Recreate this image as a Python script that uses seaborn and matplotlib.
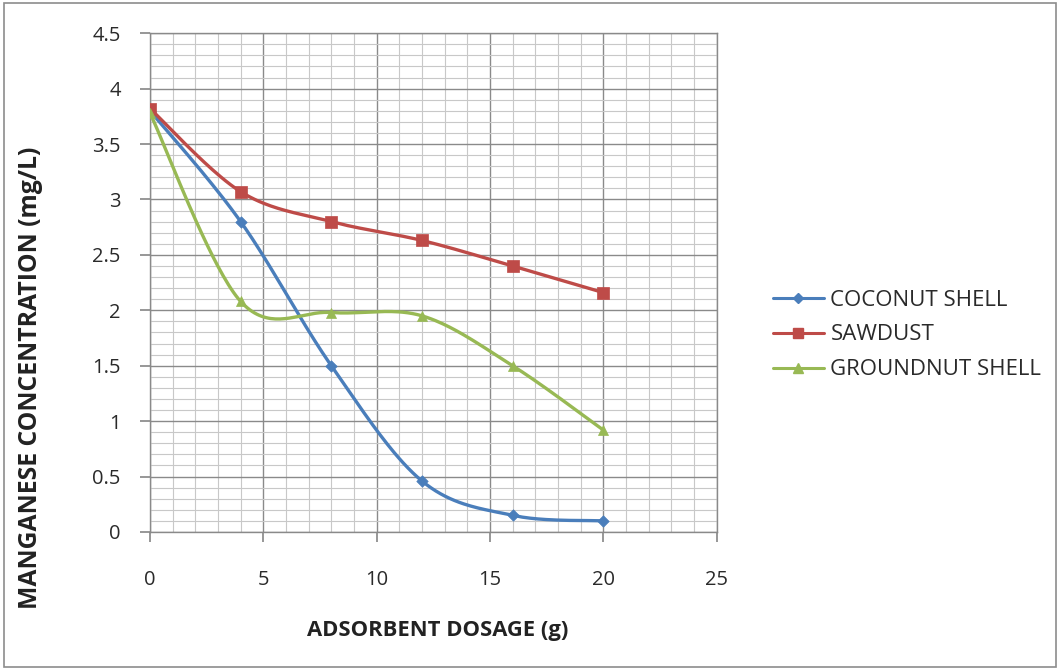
import numpy as np
import pandas as pd
import matplotlib
matplotlib.use("Agg")
import matplotlib.pyplot as plt
from matplotlib.lines import Line2D
from matplotlib.patches import Rectangle
from matplotlib.ticker import MultipleLocator
import seaborn as sns

# ---- data ----
dosage = [0, 4, 8, 12, 16, 20]
coconut = [3.80, 2.80, 1.50, 0.46, 0.15, 0.10]
sawdust = [3.82, 3.07, 2.80, 2.63, 2.40, 2.16]
groundnut = [3.78, 2.08, 1.98, 1.95, 1.50, 0.92]
series_names = ["COCONUT SHELL", "SAWDUST", "GROUNDNUT SHELL"]
x_ticks = [0, 5, 10, 15, 20, 25]
y_ticks = [0, 0.5, 1, 1.5, 2, 2.5, 3, 3.5, 4, 4.5]

colors = ["#4A7EBB", "#BE4B48", "#98B954"]
markers = ["D", "s", "^"]
msizes = [34, 64, 52]

sns.set_theme(style="white")
plt.rcParams['font.family'] = ['Open Sans', 'DejaVu Sans']


def smooth(xs, ys, n=40):
    """Excel-like smoothed curve (cubic Bezier with Catmull-Rom controls)."""
    xs = np.asarray(xs, float)
    ys = np.asarray(ys, float)
    P = np.column_stack([xs, ys])
    out = []
    for i in range(len(P) - 1):
        p0 = P[i - 1] if i > 0 else P[i]
        p1 = P[i]
        p2 = P[i + 1]
        p3 = P[i + 2] if i + 2 < len(P) else P[i + 1]
        c1 = p1 + (p2 - p0) / 6.0
        c2 = p2 - (p3 - p1) / 6.0
        t = np.linspace(0, 1, n)[:, None]
        seg = ((1 - t) ** 3) * p1 + 3 * ((1 - t) ** 2) * t * c1 + 3 * (1 - t) * t ** 2 * c2 + t ** 3 * p2
        out.append(seg if i == 0 else seg[1:])
    seg = np.vstack(out)
    return seg[:, 0], seg[:, 1]


fig = plt.figure(figsize=(10.6, 6.7), dpi=100)
ax = fig.add_axes([0.1415, 0.206, 0.5345, 0.7445])

# outer figure border
fig.patches.append(Rectangle((0.004, 0.004), 0.992, 0.992, transform=fig.transFigure,
                             fill=False, edgecolor="#8C8C8C", linewidth=1.2))

handles = []
for name, ys, c, m, ms in zip(series_names, [coconut, sawdust, groundnut], colors, markers, msizes):
    sx, sy = smooth(dosage, ys)
    df_line = pd.DataFrame({"x": sx, "y": sy})
    sns.lineplot(data=df_line, x="x", y="y", ax=ax, color=c, linewidth=2.4, sort=False,
                 estimator=None, zorder=3)
    df_pts = pd.DataFrame({"x": dosage, "y": ys})
    sns.scatterplot(data=df_pts, x="x", y="y", ax=ax, color=c, marker=m, s=ms,
                    edgecolor=c, linewidth=0.5, zorder=4)
    handles.append(Line2D([0], [0], color=c, linewidth=2.2, marker=m,
                          markersize=np.sqrt(ms) * 0.9, markeredgecolor=c, label=name))

ax.set_xlim(0, 25)
ax.set_ylim(0, 4.5)
ax.set_xticks(x_ticks)
ax.set_yticks(y_ticks)
ax.set_xticklabels([str(v) for v in x_ticks])
ax.set_yticklabels([f"{v:g}" for v in y_ticks])
ax.xaxis.set_minor_locator(MultipleLocator(1))
ax.yaxis.set_minor_locator(MultipleLocator(0.1))
ax.grid(which="major", color="#8A8A8A", linewidth=1.0, zorder=1)
ax.grid(which="minor", color="#C8C8C8", linewidth=0.8, zorder=0)
ax.set_axisbelow(True)
for s in ax.spines.values():
    s.set_color("#8A8A8A")
    s.set_linewidth(1.0)
ax.tick_params(axis="both", which="major", length=7, color="#8A8A8A", labelsize=14.5,
               labelcolor="#2A2A2A", direction="out")
ax.tick_params(axis="x", which="major", pad=20.5)
ax.tick_params(axis="y", which="major", pad=14)
ax.tick_params(axis="both", which="minor", length=0)
ax.tick_params(bottom=True, left=True)

ax.set_xlabel("ADSORBENT DOSAGE (g)", fontsize=15.8, fontweight="bold", color="#222222")
ax.xaxis.set_label_coords(0.508, -0.176)
ax.set_ylabel("MANGANESE CONCENTRATION (mg/L)", fontsize=17.8, fontweight="bold", color="#222222")
ax.yaxis.set_label_coords(-0.188, 0.31)

leg = fig.legend(handles=handles, loc="center left", bbox_to_anchor=(0.71, 0.50),
                 frameon=False, fontsize=16, handlelength=2.3, labelspacing=0.62,
                 handletextpad=0.3)
for t in leg.get_texts():
    t.set_color("#2A2A2A")

fig.savefig("out.png", dpi=100)
